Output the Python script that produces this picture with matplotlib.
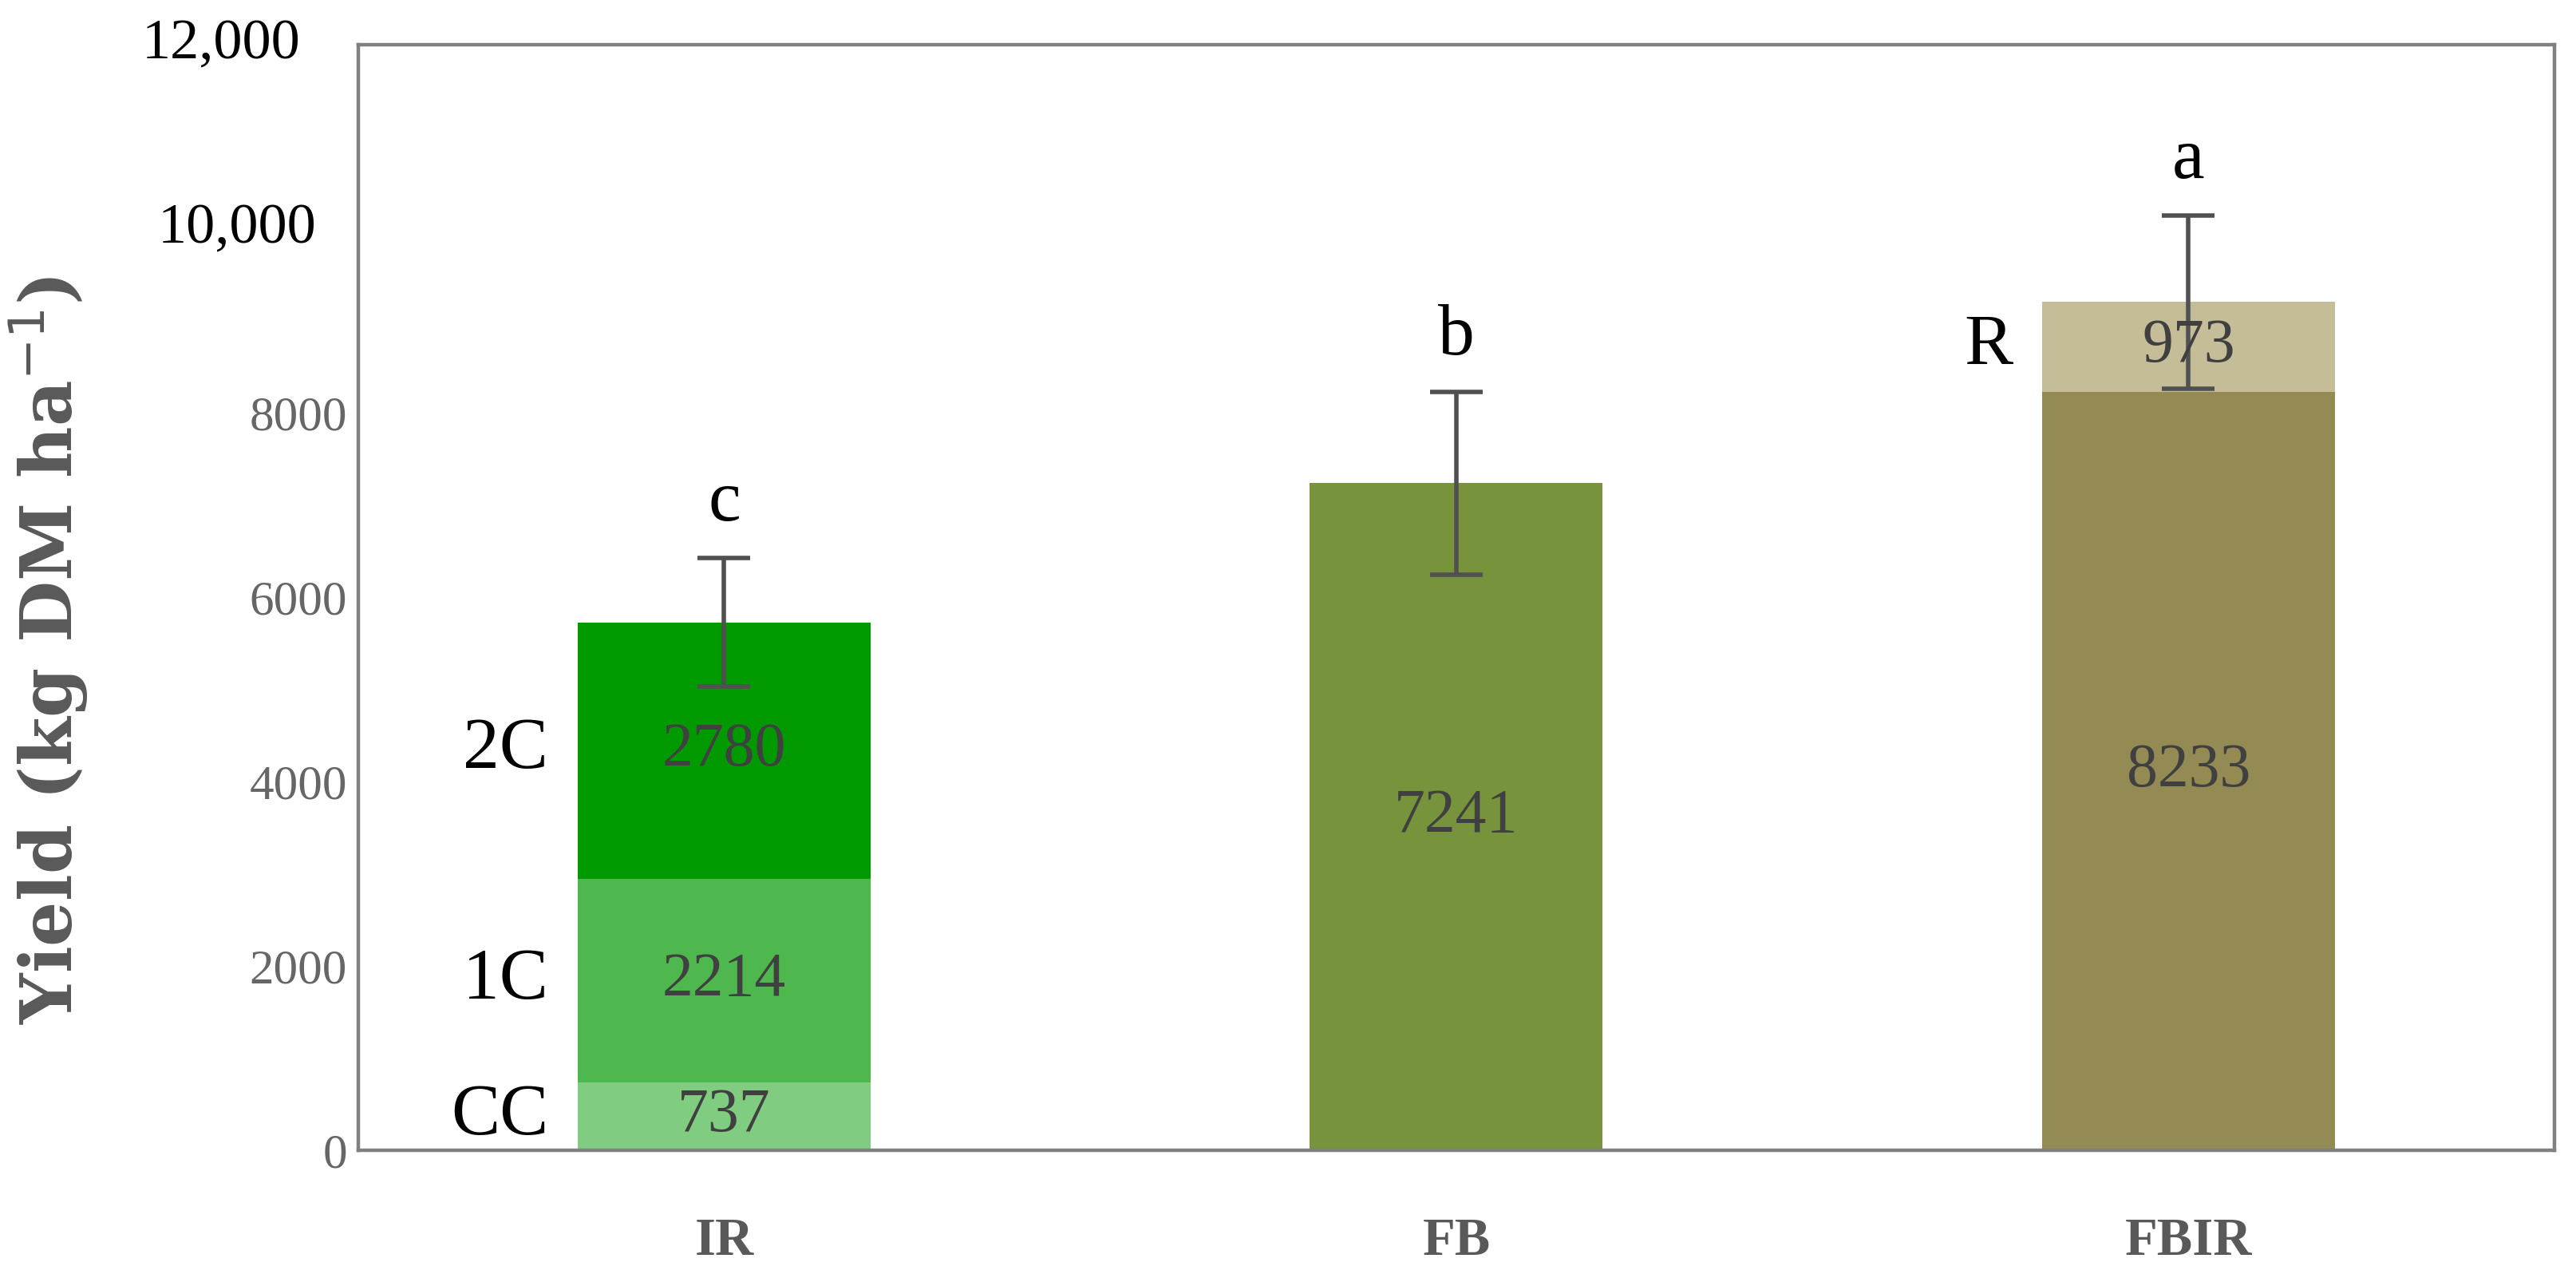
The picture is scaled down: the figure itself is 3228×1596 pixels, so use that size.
import matplotlib
matplotlib.use("Agg")
import matplotlib.pyplot as plt
import numpy as np

# treatments and stacked yield components (kg DM/ha)
treatments = ["IR", "FB", "FBIR"]
ir_parts = [737, 2214, 2780]          # CC, 1C, 2C
ir_part_names = ["CC", "1C", "2C"]
fb_parts = [7241]
fbir_parts = [8233, 973]              # base, R
fbir_part_names = ["", "R"]
errors = [700, 990, 940]
letters = ["c", "b", "a"]
yticks = [0, 2000, 4000, 6000, 8000, 10000, 12000]
ytick_labels = ["0", "2000", "4000", "6000", "8000", "10,000", "12,000"]

ir_colors = ["#80CC80", "#4EB74E", "#009900"]
fb_colors = ["#77933C"]
fbir_colors = ["#948A54", "#C4BD97"]

plt.rcParams["font.family"] = ["Liberation Serif", "DejaVu Serif"]

fig = plt.figure(figsize=(16.14, 7.98), dpi=200)
ax = fig.add_axes([0.139, 0.097, 0.8527, 0.868])

width = 0.4
x = np.arange(len(treatments))
all_parts = [ir_parts, fb_parts, fbir_parts]
all_colors = [ir_colors, fb_colors, fbir_colors]
all_names = [ir_part_names, [""], fbir_part_names]

for i, (parts, cols, names) in enumerate(zip(all_parts, all_colors, all_names)):
    bottom = 0
    for val, col, name in zip(parts, cols, names):
        ax.bar(x[i], val, width, bottom=bottom, color=col, linewidth=0)
        mid = bottom + val / 2
        ax.text(x[i], mid, str(val), ha="center", va="center",
                fontsize=28, color="#404040")
        if name:
            ax.text(x[i] - width / 2 - 0.04, mid, name, ha="right",
                    va="center", fontsize=33, color="black")
        bottom += val
    ax.errorbar(x[i], bottom, yerr=errors[i], fmt="none", ecolor="#505050",
                elinewidth=2, capsize=12, capthick=2)
    ax.text(x[i], bottom + errors[i] + 600, letters[i], ha="center",
            va="center", fontsize=33, color="black")

ax.set_xlim(-0.5, 2.5)
ax.set_ylim(0, 12000)
ax.set_yticks(yticks)
# grey labels for the lower ticks, black ones for the comma-formatted ticks
ax.set_yticklabels([t if "," not in t else "" for t in ytick_labels],
                   fontsize=22, color="#666666")
for t, lab in zip(yticks, ytick_labels):
    if "," in lab:
        ax.annotate(lab, xy=(0, t), xycoords=("axes fraction", "data"),
                    xytext=(-19 if t == 10000 else -26, 0),
                    textcoords="offset points", ha="right", va="center",
                    fontsize=26, color="black")
ax.set_xticks(x)
ax.set_xticklabels(treatments, fontweight="bold", color="#595959", fontsize=24)
ax.tick_params(axis="both", length=0)
ax.tick_params(axis="x", pad=30)
ax.tick_params(axis="y", pad=5)

for sp in ax.spines.values():
    sp.set_color("#808080")
    sp.set_linewidth(1.6)

fig.text(0.019, 0.49, "Yield (kg DM ha$^{-1}$)", rotation=90, ha="center",
         va="center", fontsize=32, fontweight="bold", color="#595959",
         family="DejaVu Serif")

fig.savefig("out.png", dpi=200)
